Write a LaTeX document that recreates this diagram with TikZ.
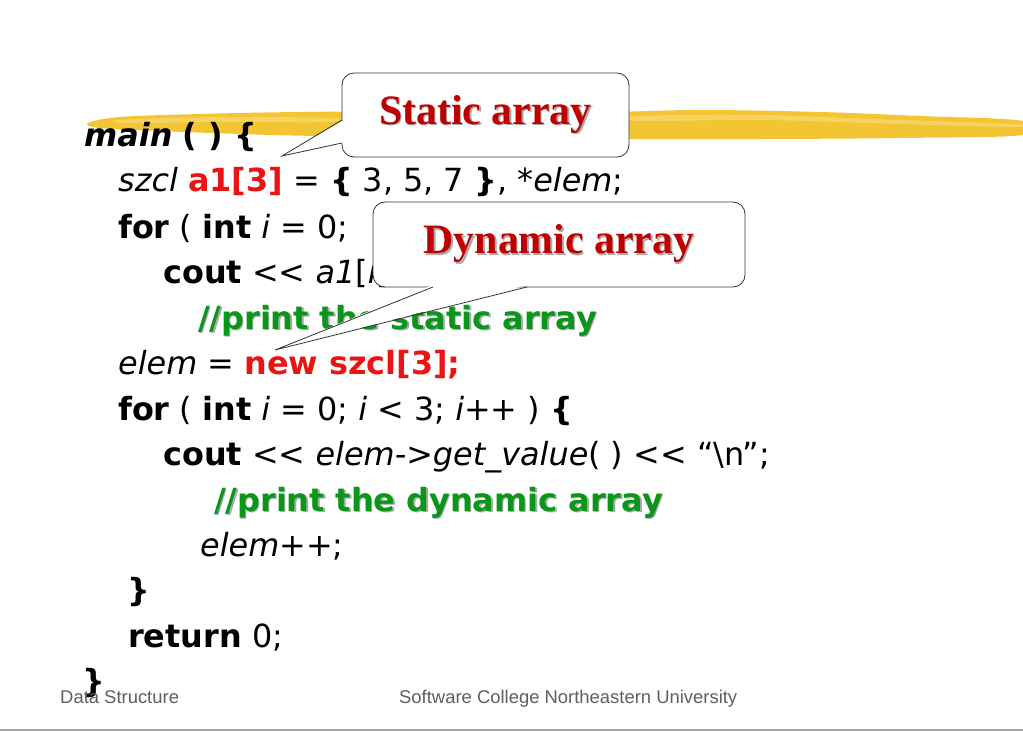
\documentclass[tikz,border=0pt]{standalone}
\usepackage{fontspec}
\usepackage{tikz}
\newfontfamily\codefont{DejaVu Sans}
\newfontfamily\notefont{Liberation Serif}
\newfontfamily\footfont{Liberation Sans}
\definecolor{codered}{RGB}{235,20,20}
\definecolor{codegreen}{RGB}{10,150,25}
\definecolor{notered}{RGB}{192,0,0}
\definecolor{shade}{RGB}{170,170,170}
\definecolor{brush}{RGB}{243,196,52}
\definecolor{brushlight}{RGB}{249,219,112}
\definecolor{footgray}{RGB}{95,95,95}
\newcommand\shadowed[2]{\rlap{\kern1.5bp\raisebox{-1.5bp}{\textcolor{shade}{#2}}}\textcolor{#1}{#2}}
\newcommand\hot[1]{\textcolor{codered}{\textbf{#1}}}
\newcommand\shl{<\kern0pt<}

\begin{document}
\begin{tikzpicture}[x=1bp, y=-1bp,
    code/.style = {anchor=base west, inner sep=0pt, font=\codefont\fontsize{32}{38}\selectfont},
    note/.style = {draw=black!80, line width=0.8bp, fill=white, rounded corners=12bp, inner sep=0pt, font=\notefont\bfseries\fontsize{42}{48}\selectfont},
    tail/.style = {draw=black!80, line width=0.8bp},
    foot/.style = {anchor=base west, inner sep=0pt, text=footgray, font=\footfont\fontsize{18.5}{22}\selectfont}]
    \useasboundingbox (0,0) rectangle (1023,731);

    % yellow brush stroke under the title line
    \fill[brush] plot[smooth cycle, tension=0.6] coordinates {(88,123) (120,117) (200,114) (300,112) (450,111) (600,112) (700,110) (820,112) (920,116) (1023,121) (1023,135) (900,138) (760,139) (620,139) (450,137) (320,136) (240,134) (160,131) (100,128)};
    \fill[brushlight, opacity=0.7] plot[smooth cycle, tension=0.6] coordinates {(120,120) (220,117) (330,118) (330,122) (220,122) (130,123)};
    \fill[brushlight, opacity=0.7] plot[smooth cycle, tension=0.6] coordinates {(640,116) (760,115) (900,120) (1015,124) (1015,127) (900,124) (760,120) (640,121)};

    % the program
    \node[code] (lmain)   at (84,147)  {\textbf{\textit{main}} \textbf{( ) \{}};
    \node[code] (ldecl)   at (118,192) {\textit{szcl} \hot{a1[3]} = \textbf{\{} 3, 5, 7 \textbf{\}}, *\textit{elem};};
    \node[code] (lfor1)   at (118,238) {\textbf{for} ( \textbf{int} \textit{i} = 0;};
    \node[code] (lcout1)  at (163,283) {\textbf{cout} \shl{} \textit{a1}[\textit{i}].};
    \node[code] (lcmt1)   at (198,329) {\textbf{\shadowed{codegreen}{//print the static array}}};
    \node[code] (lnew)    at (118,374) {\textit{elem} = \hot{new szcl[3];}};
    \node[code] (lfor2)   at (118,420) {\textbf{for} ( \textbf{int} \textit{i} = 0; \textit{i} < 3; \textit{i}++ ) \textbf{\{}};
    \node[code] (lcout2)  at (163,465) {\textbf{cout} \shl{} \textit{elem->get\_value}( ) \shl{} \textquotedblleft\textbackslash n\textquotedblright;};
    \node[code] (lcmt2)   at (214,511) {\textbf{\shadowed{codegreen}{//print the dynamic array}}};
    \node[code] (linc)    at (200,556) {\textit{elem}++;};
    \node[code] (lclose1) at (127,601) {\textbf{\}}};
    \node[code] (lret)    at (128,647) {\textbf{return} 0;};
    \node[code] (lclose2) at (82,692)  {\textbf{\}}};

    % callouts
    \node[note, minimum width=287bp, minimum height=84bp] (static) at (485.5,115) {\shadowed{notered}{Static array}};
    \coordinate (stip) at (282,156);
    \coordinate (sa) at (342,120);
    \coordinate (sb) at (342,143);
    \fill[white] ([xshift=2bp]sa) -- (stip) -- ([xshift=2bp]sb) -- cycle;
    \draw[tail] (sa) -- (stip) -- (sb);

    \node[note, minimum width=372bp, minimum height=85bp] (dynamic) at (559,244.5) {\shadowed{notered}{Dynamic array}};
    \coordinate (dtip) at (275,350);
    \coordinate (da) at (433,287);
    \coordinate (db) at (527,287);
    \fill[white] ([yshift=2bp]da) -- (dtip) -- ([yshift=2bp]db) -- cycle;
    \draw[tail] (da) -- (dtip) -- (db);

    % footer
    \node[foot] (course) at (60,703) {Data Structure};
    \node[foot] (school) at (399,703) {Software College Northeastern University};
    \draw[line width=2bp, black!35] (0,730) -- (1023,730);
\end{tikzpicture}
\end{document}
